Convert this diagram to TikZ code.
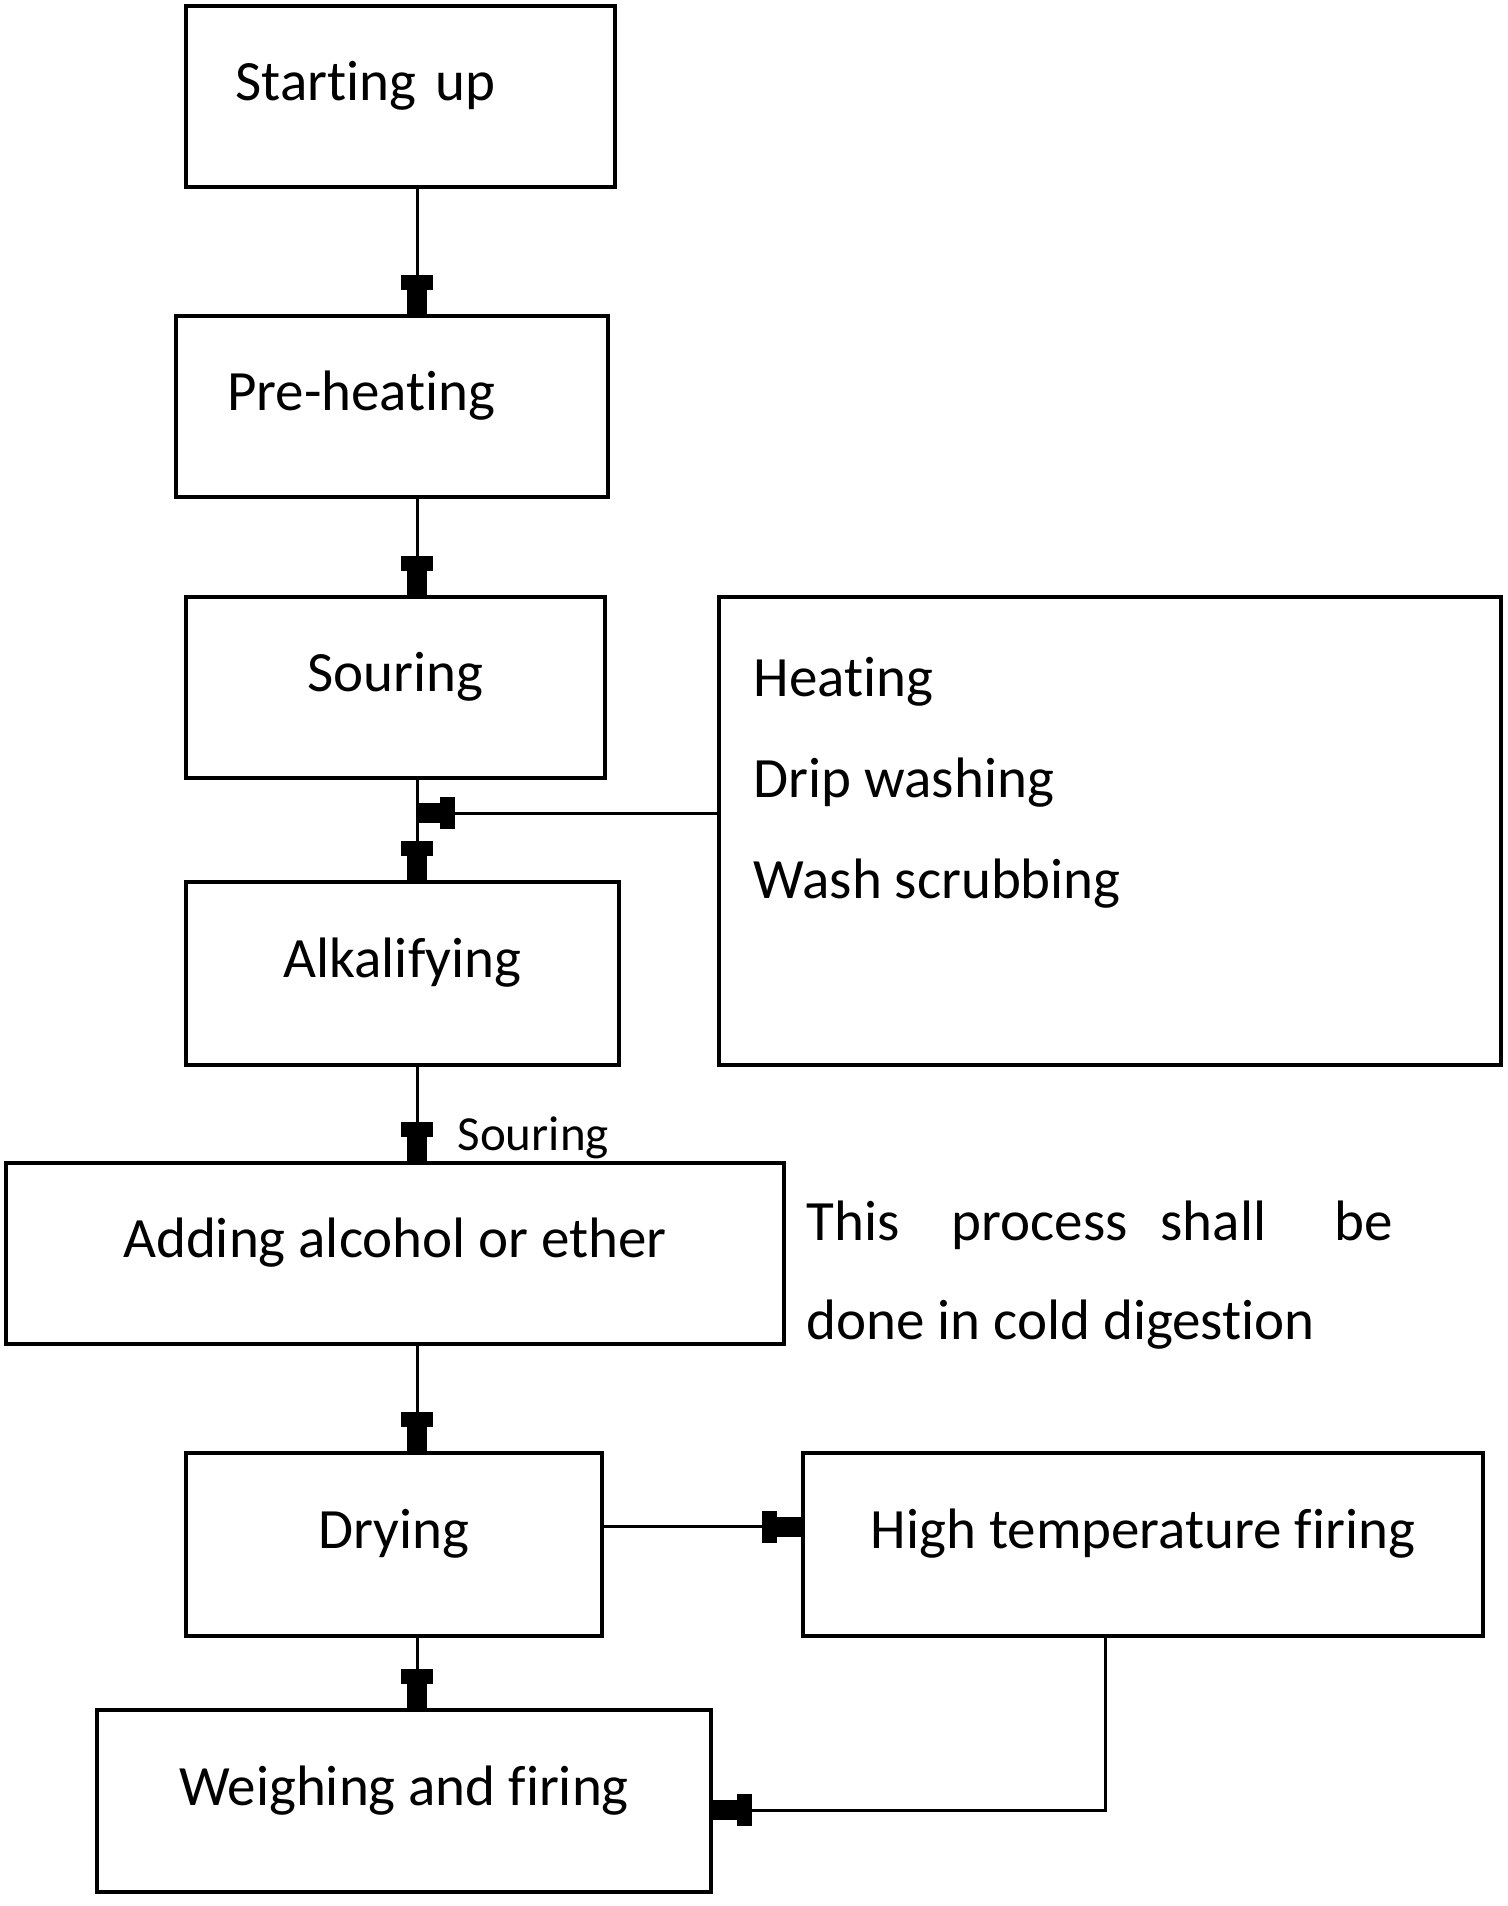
\documentclass[tikz,border=0pt]{standalone}
\usepackage{fontspec}
\setmainfont{Carlito}[Ligatures=NoCommon]
\usetikzlibrary{arrows.meta}

\tikzset{
  box/.style={draw, line width=1.4pt, inner sep=0pt, text height=0.72em, text depth=0.48em,
    font=\fontsize{17.1pt}{20pt}\selectfont},
  lbox/.style={box, text width=99pt, align=left},
  lbl/.style={anchor=west, inner sep=0pt, font=\fontsize{17.1pt}{20pt}\selectfont},
  arr/.style={line width=0.9pt,
    -{Rectangle[length=4.5pt,width=9.6pt,sep=0pt]Rectangle[length=7pt,width=6pt,sep=0pt]}}
}

\begin{document}
\begin{tikzpicture}[x=0.3pt, y=-0.3pt]
\useasboundingbox (0,0) rectangle (1507,1906);

% main column
\node[lbox, minimum width=128.7pt, minimum height=54.3pt] (start) at (400.5, 96.5) {Starting up};
\node[lbox, minimum width=129.6pt, minimum height=54.3pt] (preheat) at (392, 406.5) {Pre-heating};
\node[box, minimum width=125.7pt, minimum height=54.3pt] (souring) at (395.5, 687.5) {Souring};
\node[box, minimum width=129.9pt, minimum height=54.9pt] (alkali) at (402.5, 973.5) {Alkalifying};
\node[box, minimum width=233.4pt, minimum height=54.3pt] (adding) at (395, 1253.5) {Adding alcohol or ether};
\node[box, minimum width=124.8pt, minimum height=54.9pt] (drying) at (394, 1544.5) {Drying};
\node[box, minimum width=184.2pt, minimum height=54.6pt] (weighing) at (404, 1801) {Weighing and firing};

% side boxes
\node[box, minimum width=234.6pt, minimum height=140.4pt] (washbox) at (1110, 831) {};
\node[lbl] (heat) at (753, 682) {Heating};
\node[lbl] (drip) at (753, 783) {Drip washing};
\node[lbl] (scrub) at (753, 884) {Wash scrubbing};
\node[box, minimum width=204pt, minimum height=54.9pt] (firing) at (1143, 1544.5) {High temperature firing};

% notes
\node[lbl, font=\fontsize{14.7pt}{18pt}\selectfont] (sour2) at (457, 1138) {Souring};
\node[lbl] (note1) at (806, 1225) {This\hspace{15.6pt}process\hspace{9.9pt}shall\hspace{20.4pt}be};
\node[lbl] (note2) at (806, 1325) {done in cold digestion};

% connectors
\coordinate (spine) at (417, 0);
\coordinate (join) at (417, 813);
\draw[arr] (start.south -| spine) -- (preheat.north -| spine);
\draw[arr] (preheat.south -| spine) -- (souring.north -| spine);
\draw[arr] (souring.south -| spine) -- (alkali.north -| spine);
\draw[arr] (washbox.west |- join) -- (join);
\draw[arr] (alkali.south -| spine) -- (adding.north -| spine);
\draw[arr] (adding.south -| spine) -- (drying.north -| spine);
\draw[arr] (drying.south -| spine) -- (weighing.north -| spine);
\draw[arr] ([yshift=5.4pt]drying.east) -- ([yshift=5.4pt]firing.west);
\draw[arr] ([xshift=-11.4pt]firing.south) |- ([yshift=-2.7pt]weighing.east);
\end{tikzpicture}
\end{document}
